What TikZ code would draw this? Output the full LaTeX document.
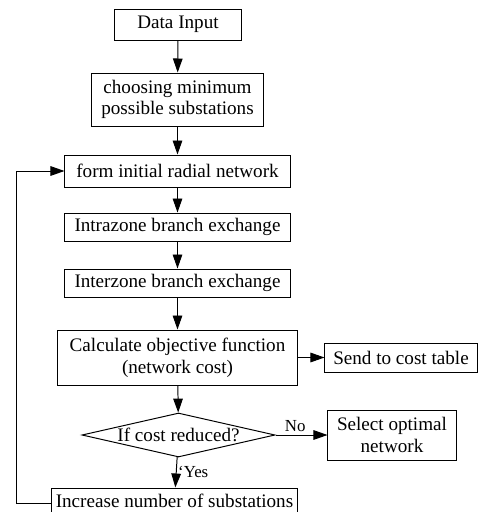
\documentclass[tikz,border=0pt]{standalone}
\usepackage{fontspec}
\setmainfont{Liberation Serif}
\usetikzlibrary{arrows.meta}
\usetikzlibrary{positioning}
\usetikzlibrary{shapes.geometric}

\begin{document}
\begin{tikzpicture}[x=0.025cm,y=-0.025cm,line width=0.7pt,>={Triangle[length=0.35cm,width=0.24cm]},
    stage/.style={draw, align=center, inner sep=1pt, font=\fontsize{13.6}{15.5}\selectfont},
    test/.style={draw, diamond, aspect=4.4, inner sep=0pt, font=\fontsize{13.6}{15.5}\selectfont}]
    \useasboundingbox (0,0) rectangle (481,512);

    \node[stage, minimum width=3.15cm, minimum height=0.775cm] (input) at (178,24.5) {Data Input};
    \node[stage, minimum width=4.275cm, minimum height=1.325cm] (choose) at (177.5,99.5) {choosing minimum\\possible substations};
    \node[stage, minimum width=5.625cm, minimum height=0.8cm] (initial) at (177.5,171) {form initial radial network};
    \node[stage, minimum width=5.625cm, minimum height=0.7cm] (intra) at (177.5,227) {Intrazone branch exchange};
    \node[stage, minimum width=5.625cm, minimum height=0.7cm] (inter) at (177.5,283) {Interzone branch exchange};
    \node[stage, minimum width=5.975cm, minimum height=1.375cm] (objective) at (177.5,357.5) {Calculate objective function\\(network cost)};
    \node[stage, minimum width=3.8cm, minimum height=0.725cm] (table) at (401,357.5) {Send to cost table};
    \node[test, minimum width=4.825cm, minimum height=1.1cm] (reduced) at (178.5,435) {If cost reduced?};
    \node[stage, minimum width=3.2cm, minimum height=1.25cm] (optimal) at (392,435) {Select optimal\\network};
    \node[stage, minimum width=6.125cm, minimum height=0.65cm] (increase) at (174.5,501) {Increase number of substations};

    \draw[->] (input) -- (choose);
    \draw[->] (choose) -- (initial);
    \draw[->] (initial) -- (intra);
    \draw[->] (intra) -- (inter);
    \draw[->] (inter) -- (objective);
    \draw[->] (objective) -- (table);
    \draw[->] (objective) -- (reduced);
    \draw[->] (reduced) -- node[above, pos=0.38, inner sep=2pt, font=\fontsize{12}{14}\selectfont] {No} (optimal);
    \draw[->] (reduced) -- node[right, inner sep=1pt, font=\fontsize{12}{14}\selectfont] {`Yes} (increase);
    \draw[->] ([yshift=-0.05cm]increase.west) -- ++(-35,0) |- (initial.west);
  \end{tikzpicture}
\end{document}
